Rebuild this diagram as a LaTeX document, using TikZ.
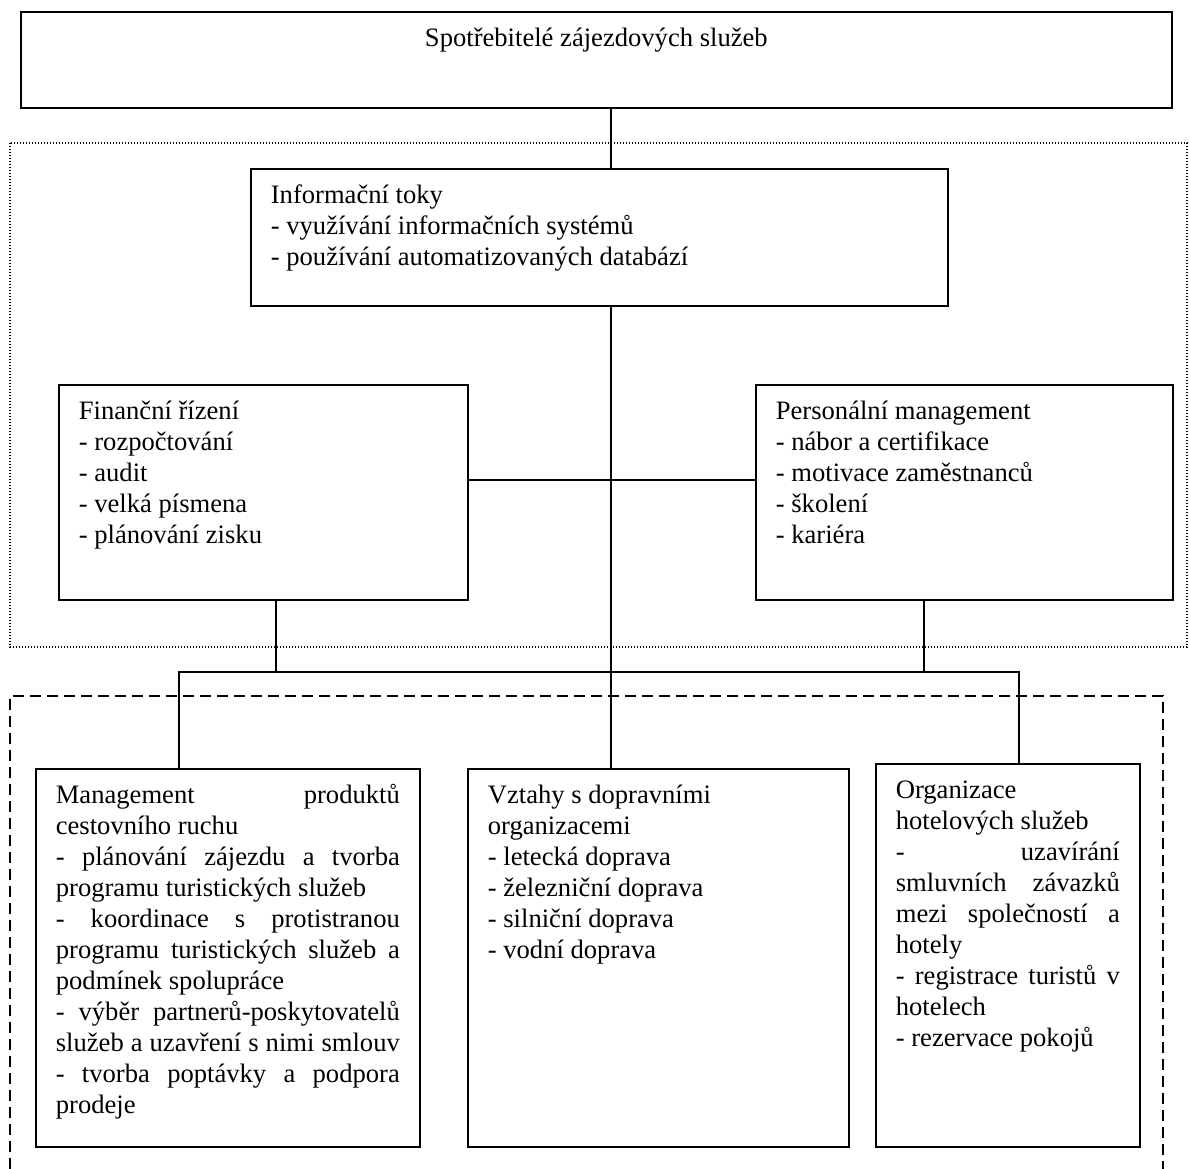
\documentclass[tikz,border=0pt]{standalone}
\usepackage{fontspec}
\setmainfont{Liberation Serif}
\usepackage{tikz}
\usetikzlibrary{positioning}
\setlength{\parindent}{0pt}
\newcommand{\wordspaces}{\spaceskip=0pt\relax\xspaceskip=0pt\relax}
\newcommand{\jline}[1]{\makebox[\linewidth][s]{\wordspaces #1}}

\begin{document}
\begin{tikzpicture}[x=1pt, y=-1pt, line width=1.7pt, font=\fontsize{26.6}{31}\selectfont]
    \tikzstyle{box}=[draw, anchor=north west, inner xsep=20pt, inner ysep=0pt, text height=35pt, align=left,
        execute at begin node={\wordspaces}]
    \useasboundingbox (0,0) rectangle (1189,1169);

    \draw[line width=1.4pt, dash pattern=on 1.4pt off 1.6pt] (10,143) rectangle (1187,647);
    \draw[line width=1.4pt, dash pattern=on 11pt off 6pt] (10,1169) -- (10,696) -- (1163,696) -- (1163,1169);

    \node[box, align=center, text width=1111pt, text depth=61pt] (top) at (20,11) {\mbox{Spotřebitelé zájezdových služeb}};
    \node[box, text width=657pt, text depth=102pt] (info) at (250,168) {Informační toky\\- využívání informačních systémů\\- používání automatizovaných databází};
    \node[box, text width=369pt, text depth=180pt] (fin) at (58,384) {Finanční řízení\\- rozpočtování\\- audit\\- velká písmena\\- plánování zisku};
    \node[box, text width=377pt, text depth=180pt] (pers) at (755,384) {Personální management\\- nábor a certifikace\\- motivace zaměstnanců\\- školení\\- kariéra};
    \node[box, text width=344pt, text depth=343pt] (prod) at (35,768) {\jline{Management produktů}\\cestovního ruchu\\\jline{- plánování zájezdu a tvorba}\\programu turistických služeb\\\jline{- koordinace s protistranou}\\\jline{programu turistických služeb a}\\podmínek spolupráce\\\jline{- výběr partnerů-poskytovatelů}\\\jline{služeb a uzavření s nimi smlouv}\\\jline{- tvorba poptávky a podpora}\\prodeje};
    \node[box, text width=341pt, text depth=343pt] (trans) at (467,768) {Vztahy s dopravními\\organizacemi\\- letecká doprava\\- železniční doprava\\- silniční doprava\\- vodní doprava};
    \node[box, text width=224pt, text depth=348pt] (hotel) at (875,763) {Organizace\\hotelových služeb\\\jline{- uzavírání}\\\jline{smluvních závazků}\\\jline{mezi společností a}\\hotely\\\jline{- registrace turistů v}\\hotelech\\- rezervace pokojů};

    \coordinate (spine) at (611,0);
    \coordinate (mid) at (0,480);
    \coordinate (busL) at (179,672);
    \coordinate (busR) at (1019,672);

    \draw (top.south -| spine) -- (info.north -| spine);
    \draw (info.south -| spine) -- (trans.north -| spine);
    \draw (fin.east |- mid) -- (pers.west |- mid);
    \draw ([xshift=12.5pt]fin.south) -- ([xshift=12.5pt]fin.south |- busL);
    \draw ([xshift=-40.5pt]pers.south) -- ([xshift=-40.5pt]pers.south |- busL);
    \draw (prod.north -| busL) -- (busL) -- (busR) -- (hotel.north -| busR);
\end{tikzpicture}
\end{document}
